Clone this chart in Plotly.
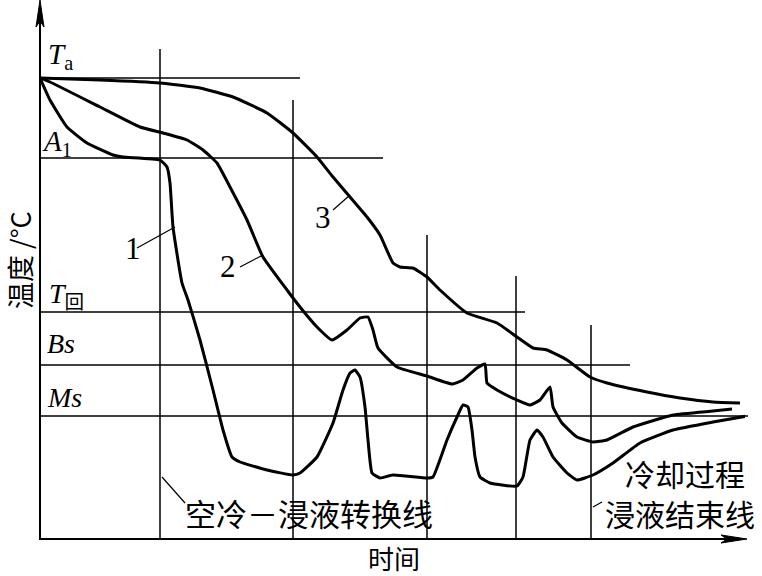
import plotly.graph_objects as go

# Pixel-derived schematic values (time units, temperature units); y = 540 - py, x = px - 40
c1_px = [(40,78),(50,100),(67,127),(87,143),(113,155),(123,157),(160,160),(167,167),(170,183),
         (173,227),(182,283),(188,300),(200,340),(213,390),(223,430),(232,457),(240,462),(267,470),
         (293,475),(300,473),(317,457),(333,423),(343,390),(350,373),(355,370),(360,377),(365,407),
         (368,440),(372,473),(380,478),(393,475),(427,478),(433,477),(447,440),(457,417),(463,405),
         (468,407),(472,430),(475,457),(480,477),(490,483),(517,486),(523,477),(530,440),(537,430),
         (543,437),(553,457),(567,473),(577,480),(593,475),(613,463),(640,443),(673,430),(713,422),(747,416)]
c2_px = [(40,78),(50,82),(100,107),(140,127),(163,133),(187,140),(203,150),(217,163),(230,187),
         (247,220),(263,257),(287,290),(300,307),(317,327),(332,340),(347,330),(360,318),(368,317),
         (373,330),(378,348),(397,367),(427,376),(452,384),(463,380),(477,368),(485,364),(487,383),
         (497,390),(517,400),(530,405),(540,400),(550,387),(553,407),(562,423),(577,437),(593,442),
         (607,440),(633,427),(673,415),(713,411),(732,409)]
c3_px = [(40,78),(100,80),(160,83),(200,88),(233,97),(267,113),(293,133),(317,157),(333,177),
         (350,197),(367,217),(380,235),(393,263),(400,267),(413,268),(427,277),(440,290),(467,313),
         (497,323),(517,337),(533,348),(547,350),(567,360),(590,377),(607,383),(647,392),(680,398),
         (713,402),(740,403)]

def conv(pts):
    return [p[0]-40 for p in pts], [540-p[1] for p in pts]

c1_t, c1_T = conv(c1_px)
c2_t, c2_T = conv(c2_px)
c3_t, c3_T = conv(c3_px)

# Horizontal reference levels: name, temperature, end time
h_names = ["Ta", "A1", "T回", "Bs", "Ms"]
h_levels = [462, 382, 228, 175, 124]
h_ends = [260, 343, 485, 590, 708]
# Vertical time lines: time, top temperature
v_times = [120, 253, 387, 476, 551]
v_tops = [491, 440, 305, 264, 215]

XW, YH = 705.0, 540.0
def px_(x):
    return x / XW
def py_(y):
    return y / YH

fig = go.Figure()
for t, T in [(c1_t, c1_T), (c2_t, c2_T), (c3_t, c3_T)]:
    fig.add_trace(go.Scatter(x=t, y=T, mode="lines", line=dict(color="black", width=3, shape="spline", smoothing=0.4),
                             showlegend=False, hoverinfo="skip", cliponaxis=False))

shapes = []
for lv, e in zip(h_levels, h_ends):
    shapes.append(dict(type="line", x0=0, x1=px_(e), y0=py_(lv), y1=py_(lv), xref="paper", yref="paper",
                       line=dict(color="black", width=1.5)))
for vt, top in zip(v_times, v_tops):
    shapes.append(dict(type="line", x0=px_(vt), x1=px_(vt), y0=0, y1=py_(top), xref="paper", yref="paper",
                       line=dict(color="black", width=1.5)))
# axes
shapes.append(dict(type="line", x0=0, x1=0, y0=0, y1=py_(520), xref="paper", yref="paper", line=dict(color="black", width=2)))
shapes.append(dict(type="line", x0=0, x1=px_(690), y0=py_(1), y1=py_(1), xref="paper", yref="paper", line=dict(color="black", width=2)))
# arrowheads
def path(pts):
    return "M " + " L ".join(f"{px_(a):.5f} {py_(b):.5f}" for a, b in pts) + " Z"
shapes.append(dict(type="path", path=path([(0, 540), (-4, 513), (0, 519), (4, 513)]), xref="paper", yref="paper",
                   fillcolor="black", line=dict(color="black", width=1)))
shapes.append(dict(type="path", path=path([(707, 1), (681, -3), (687, 1), (681, 5)]), xref="paper", yref="paper",
                   fillcolor="black", line=dict(color="black", width=1)))
# leader lines for curve labels
leaders = [((137,248),(175,227)), ((240,267),(263,255)), ((333,210),(350,195)),
           ((162,477),(185,503)), ((593,507),(602,502))]
for (a, b) in leaders:
    shapes.append(dict(type="line", x0=px_(a[0]-40), x1=px_(b[0]-40), y0=py_(540-a[1]), y1=py_(540-b[1]),
                       xref="paper", yref="paper", line=dict(color="black", width=1.2)))
fig.update_layout(shapes=shapes)

ann = []
serif = "Liberation Serif"
cjk = "Noto Sans CJK SC"
def txt(x, y, s, size, font=serif, xanchor="left"):
    ann.append(dict(x=(x-40)/XW, y=(540-y)/YH, xref="paper", yref="paper", text=s, showarrow=False,
                    xanchor=xanchor, yanchor="middle", font=dict(family=font, size=size, color="black")))

txt(46, 56, "<i>T</i><sub>a</sub>", 29)
txt(40, 143, "<i>A</i><sub>1</sub>", 29)
txt(47, 296, "<i>T</i><sub><span style='font-family:Noto Sans CJK SC'>回</span></sub>", 28)
txt(45, 343, "<i>Bs</i>", 28)
txt(45, 397, "<i>Ms</i>", 28)
txt(123, 248, "1", 31)
txt(218, 266, "2", 31)
txt(313, 217, "3", 31)
txt(183, 512, "空冷－浸液转换线", 31, cjk)
txt(623, 473, "冷却过程", 30, cjk)
txt(603, 513, "浸液结束线", 30, cjk)
txt(394, 557, "时间", 26, cjk, xanchor="center")
fig.update_layout(annotations=ann)
fig.add_annotation(x=(19-40)/XW, y=(540-260)/YH, xref="paper", yref="paper", text="温度 /°C", textangle=-90,
                   showarrow=False, font=dict(family=cjk, size=27, color="black"), xanchor="center", yanchor="middle")

fig.update_layout(width=762, height=576, margin=dict(l=40, r=17, t=0, b=36),
                  plot_bgcolor="white", paper_bgcolor="white",
                  xaxis=dict(range=[0, 705], visible=False, fixedrange=True),
                  yaxis=dict(range=[0, 540], visible=False, fixedrange=True))
fig.write_html("out.html", post_script="document.body.style.margin='0px';", config={"displayModeBar": False})
